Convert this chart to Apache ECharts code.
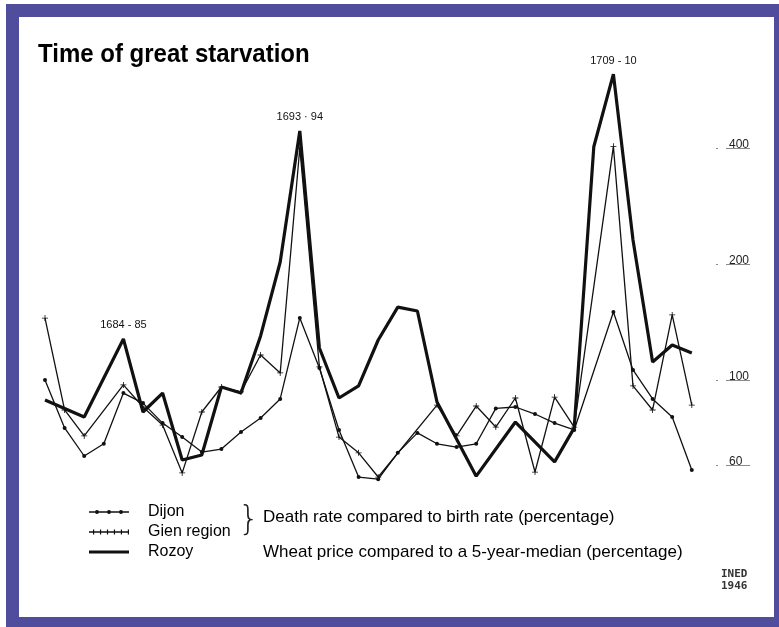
<!DOCTYPE html>
<html>
<head>
<meta charset="utf-8">
<script src="https://cdn.jsdelivr.net/npm/echarts@6/dist/echarts.min.js"></script>
<style>
html,body{margin:0;padding:0;background:#fff;}
#chart{width:779px;height:627px;}
</style>
</head>
<body>
<div id="chart"></div>
<script>
// ---- data (values in percent, log scale) ----
const rozoyYears = [1680,1682,1684,1685,1686,1687,1688,1689,1690,1691,1692,1693,1694,1695,1696,1697,1698,1699,1700,1702,1704,1706,1707,1708,1709,1710,1711,1712,1713];
const rozoyValues = [88.7,80.2,127.8,82.6,92.5,62.0,63.9,95.9,92.5,130.1,202.4,442.9,121.1,89.8,96.5,127,154.6,151.0,87.7,56.3,77.8,61.3,75.1,403,622,231,111.4,123.2,117.5];

const gienYears = [1680,1681,1682,1684,1685,1686,1687,1688,1689,1690,1691,1692,1693,1694,1695,1696,1697,1700,1701,1702,1703,1704,1705,1706,1707,1709,1710,1711,1712,1713];
const gienValues = [144.8,83.6,71.6,97.1,85.1,76.4,57.4,82.6,95.9,93.1,116.1,104.3,400,108.1,71.1,64.7,56.0,86.1,71.6,85.6,75.5,89.8,57.7,90.3,75.5,404,96.5,83.6,147.5,86.1];

const dijonYears = [1680,1681,1682,1683,1684,1685,1686,1687,1688,1689,1690,1691,1692,1693,1694,1695,1696,1697,1698,1699,1700,1701,1702,1703,1704,1705,1706,1707,1709,1710,1711,1712,1713];
const dijonValues = [100,75.1,63.5,68.3,92.5,87.1,77.3,71.1,65.0,66.2,73.3,79.7,89.3,144.9,107.4,74.2,56.0,55.3,64.7,72.9,68.3,67.0,68.3,84.4,85.1,81.6,77.3,74.2,150.1,106.2,89.3,80.2,58.4];

const yTickValues = [60,100,200,400];
const peakYears = [1684,1693,1709];
const peakLabels = ['1684 - 85','1693 · 94','1709 - 10'];

const seriesNames = ['Dijon','Gien region','Rozoy'];
const titleText = 'Time of great starvation';
const noteDeath = 'Death rate compared to birth rate (percentage)';
const noteWheat = 'Wheat price compared to a 5-year-median (percentage)';

// ---- build ----
const pair = (ys, vs) => ys.map((y,i)=>[y, vs[i]]);
const rozoyData = rozoyYears.map((y,i)=>{
  const p = peakYears.indexOf(y);
  if (p >= 0) return {value:[y, rozoyValues[i]], label:{show:true, formatter: peakLabels[p]}};
  return [y, rozoyValues[i]];
});

const ink = '#111';
const textFont = "'Liberation Sans', Arial, sans-serif";
const corner = 'M0 0h0.01v0.01h-0.01z M40 10h-0.01v-0.01h0.01z ';
const dot = cx => 'M' + (cx-2) + ' 5a2 2 0 1 1 4 0a2 2 0 1 1 -4 0z ';
const iconDijon = 'path://' + corner + 'M0 4.3h40v1.4h-40z ' + dot(8) + dot(20) + dot(32);
let gt = '';
for (let x = 4; x < 40; x += 7) gt += 'M' + x + ' 2.5h1.2v5h-1.2z ';
const iconGien = 'path://' + corner + 'M0 4.3h40v1.4h-40z ' + gt;
const iconRozoy = 'path://' + corner + 'M0 3.4h40v3.2h-40z';
const plusSymbol = 'path://M0 2.6h6v0.8h-6z M2.6 0h0.8v6h-0.8z';

const chart = echarts.init(document.getElementById('chart'), null, {renderer:'canvas'});
chart.setOption({
  animation:false,
  backgroundColor:'#ffffff',
  graphic:[
    {type:'rect', z:-100, silent:true, shape:{x:6,y:4,width:773,height:623}, style:{fill:'#4f4d9c'}},
    {type:'rect', z:-99, silent:true, shape:{x:19,y:17,width:755,height:600}, style:{fill:'#ffffff'}},
    {type:'text', x:38, y:43, scaleX:0.96, silent:true, style:{text:titleText, font:"bold 25px 'Liberation Sans'", fill:'#000', verticalAlign:'top'}},
    {type:'text', left:238, top:504, silent:true, style:{text:'}', font:"300 34px 'DejaVu Sans'", fill:'#222'}},
    {type:'text', left:263, top:509, silent:true, style:{text:noteDeath, font:"17px "+textFont, fill:'#000'}},
    {type:'text', left:263, top:544, silent:true, style:{text:noteWheat, font:"17px "+textFont, fill:'#000'}},
    {type:'text', left:721, top:568, silent:true, style:{text:'INED\n1946', font:"bold 11px 'DejaVu Sans Mono'", fill:'#333', lineHeight:12}}
  ],
  legend:{
    orient:'vertical', left:84, top:499, itemWidth:40, itemHeight:10, itemGap:4,
    selectedMode:false,
    itemStyle:{color:'#111', borderWidth:0, opacity:1},
    textStyle:{fontFamily:textFont, fontSize:16, color:'#000', lineHeight:16, padding:[0,0,0,14]},
    data:[
      {name:seriesNames[0], icon:iconDijon},
      {name:seriesNames[1], icon:iconGien},
      {name:seriesNames[2], icon:iconRozoy}
    ]
  },
  grid:{left:45, right:87.2, top:32, bottom:131, containLabel:false},
  xAxis:{type:'value', min:1680, max:1713, show:false},
  yAxis:{
    type:'log', logBase:10, min:50, max:800, position:'right', offset:24.2,
    axisLine:{show:false}, splitLine:{show:false}, minorTick:{show:false},
    axisTick:{show:true, customValues:yTickValues, length:34, lineStyle:{color:'#8a8a8a', width:1, type:[2,8,24]}},
    axisLabel:{customValues:yTickValues, margin:13, verticalAlign:'bottom', lineHeight:7,
      fontFamily:textFont, fontSize:12, color:'#222'}
  },
  series:[
    {name:seriesNames[0], type:'line', data:pair(dijonYears,dijonValues), symbol:'circle', symbolSize:4,
      lineStyle:{color:ink, width:1.3}, itemStyle:{color:ink}, emphasis:{disabled:true}, z:3},
    {name:seriesNames[1], type:'line', data:pair(gienYears,gienValues), symbol:plusSymbol, symbolSize:6,
      lineStyle:{color:ink, width:1.3}, itemStyle:{color:ink}, emphasis:{disabled:true}, z:3},
    {name:seriesNames[2], type:'line', data:rozoyData, symbol:'circle', symbolSize:0.01, showSymbol:true,
      lineStyle:{color:ink, width:3.2}, itemStyle:{color:ink}, emphasis:{disabled:true}, z:4,
      label:{show:false, position:'top', distance:8, fontFamily:textFont, fontSize:11, color:'#111'}}
  ]
});
</script>
</body>
</html>
